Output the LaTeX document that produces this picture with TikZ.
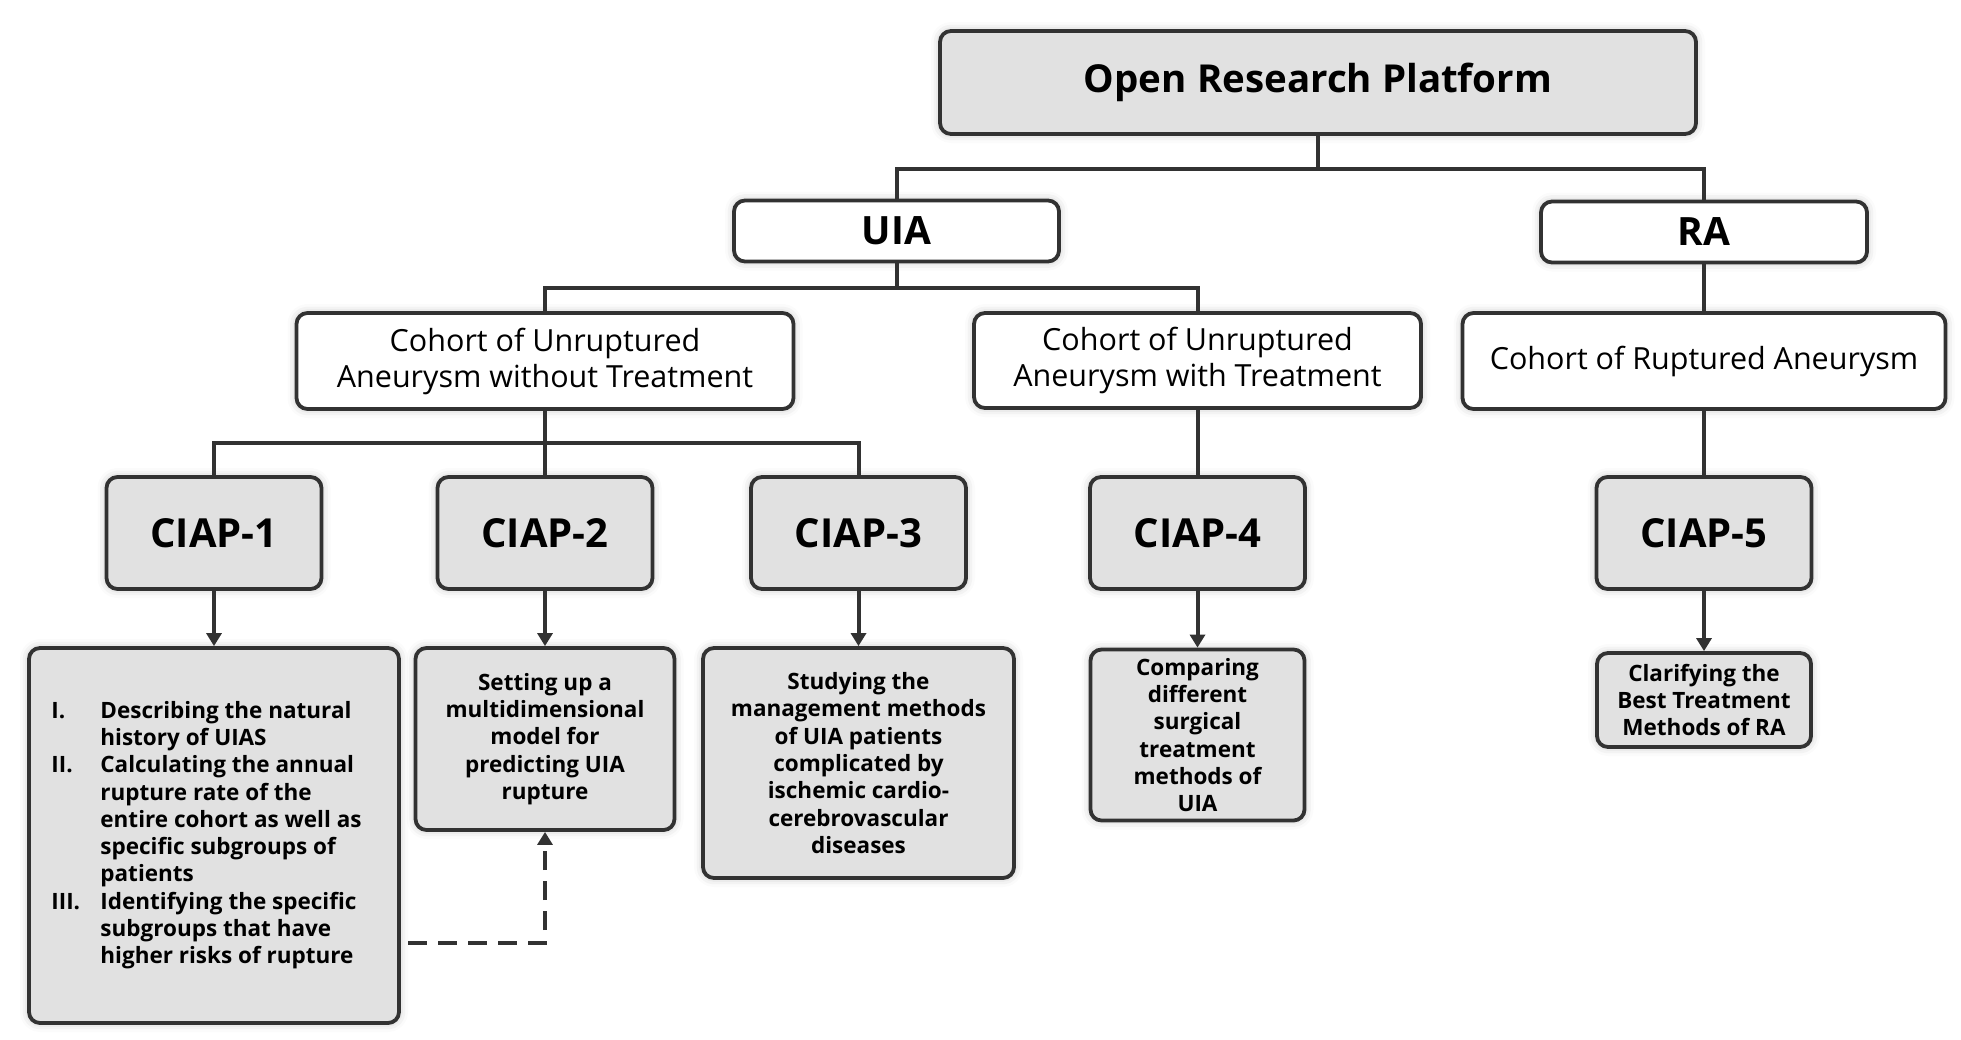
\documentclass[tikz,border=0pt]{standalone}
\usepackage{fontspec}
\setmainfont{Open Sans}
\usetikzlibrary{arrows.meta,shadows.blur}
\definecolor{boxfill}{RGB}{225,225,225}
\definecolor{edgecol}{RGB}{50,50,50}
\begin{document}
\begin{tikzpicture}[x=1pt,y=-1pt,
  box/.style={draw=edgecol, line width=3.8pt, rounded corners=11pt, fill=boxfill,
    inner sep=0pt, align=center,
    blur shadow={shadow xshift=0pt,shadow yshift=0pt,shadow blur radius=9pt,shadow opacity=25}},
  wbox/.style={box, fill=white},
  conn/.style={draw=edgecol, line width=4pt},
  arr/.style={conn, -{Triangle[length=13pt,width=15pt]}},
  titlefont/.style={font=\bfseries\fontsize{38.5}{46}\selectfont},
  lvlfont/.style={font=\bfseries\fontsize{39}{46}\selectfont},
  cohfont/.style={font=\fontsize{30.5}{36}\selectfont},
  ciapfont/.style={font=\bfseries\fontsize{40}{48}\selectfont},
  descfont/.style={font=\bfseries\fontsize{22.5}{27.3}\selectfont},
]
\useasboundingbox (0,0) rectangle (1961,1039);

% top
\node[box, titlefont, minimum width=756pt, minimum height=103pt] (orp) at (1318,82.5) {Open Research Platform};
\node[wbox, lvlfont, minimum width=325pt, minimum height=61pt] (uia) at (896.5,231) {UIA};
\node[wbox, lvlfont, minimum width=326pt, minimum height=61pt] (ra) at (1704,232) {RA};

% cohorts
\node[wbox, cohfont, minimum width=497pt, minimum height=96pt] (cwo) at (545,361) {Cohort of Unruptured\\Aneurysm without Treatment};
\node[wbox, cohfont, minimum width=447pt, minimum height=95pt] (cw) at (1197.5,360.5) {Cohort of Unruptured\\Aneurysm with Treatment};
\node[wbox, cohfont, minimum width=483pt, minimum height=96pt] (cr) at (1704,361) {Cohort of Ruptured Aneurysm};

% CIAP
\node[box, ciapfont, minimum width=215pt, minimum height=112pt] (c1) at (214,533) {CIAP-1};
\node[box, ciapfont, minimum width=215pt, minimum height=112pt] (c2) at (545,533) {CIAP-2};
\node[box, ciapfont, minimum width=215pt, minimum height=112pt] (c3) at (858.5,533) {CIAP-3};
\node[box, ciapfont, minimum width=215pt, minimum height=112pt] (c4) at (1197.5,533) {CIAP-4};
\node[box, ciapfont, minimum width=215pt, minimum height=112pt] (c5) at (1704,533) {CIAP-5};

% descriptions
\node[box, descfont, minimum width=370pt, minimum height=375pt] (d1) at (214,835.5) {%
\begin{tabular}{@{}p{49pt}@{}l@{\hspace{15pt}}}
I. & Describing the natural\\
   & history of UIAS\\
II. & Calculating the annual\\
   & rupture rate of the\\
   & entire cohort as well as\\
   & specific subgroups of\\
   & patients\\
III. & Identifying the specific\\
   & subgroups that have\\
   & higher risks of rupture
\end{tabular}};
\node[box, descfont, minimum width=259pt, minimum height=182pt] (d2) at (545,739) {Setting up a\\multidimensional\\model for\\predicting UIA\\rupture};
\node[box, descfont, minimum width=311pt, minimum height=230pt] (d3) at (858.5,763) {Studying the\\management methods\\of UIA patients\\complicated by\\ischemic cardio-\\cerebrovascular\\diseases};
\node[box, descfont, minimum width=214pt, minimum height=171pt] (d4) at (1197.5,735) {Comparing\\different\\surgical\\treatment\\methods of\\UIA};
\node[box, descfont, minimum width=214pt, minimum height=94pt] (d5) at (1704,700) {Clarifying the\\Best Treatment\\Methods of RA};

% connectors
\coordinate (j1) at (1318,169);
\coordinate (j2) at (896.5,287.5);
\coordinate (j3) at (545,442.5);
\draw[conn] (orp.south) -- (j1);
\draw[conn] (uia.north) |- (j1) -| (ra.north);
\draw[conn] (uia.south) -- (j2);
\draw[conn] (cwo.north) |- (j2) -| (cw.north);
\draw[conn] (ra.south) -- (cr.north);
\draw[conn] (cwo.south) -- (c2.north);
\draw[conn] (c1.north) |- (j3) -| (c3.north);
\draw[conn] (cw.south) -- (c4.north);
\draw[conn] (cr.south) -- (c5.north);

\draw[arr] (c1.south) -- (d1.north);
\draw[arr] (c2.south) -- (d2.north);
\draw[arr] (c3.south) -- (d3.north);
\draw[arr] (c4.south) -- (d4.north);
\draw[arr] (c5.south) -- (d5.north);

\coordinate (ds) at (408,943);
\draw[arr, dash pattern=on 19pt off 11pt] (ds) -| (d2.south);
\end{tikzpicture}
\end{document}
